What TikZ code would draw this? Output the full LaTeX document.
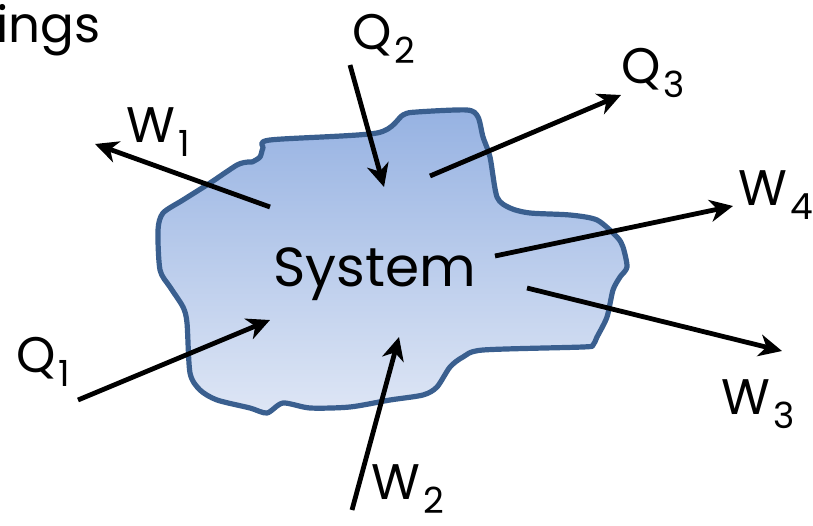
\documentclass[tikz,border=0pt]{standalone}
\usepackage{fontspec}
\setmainfont{Poppins}
\usetikzlibrary{arrows.meta}
\definecolor{blobtop}{RGB}{150,178,226}
\definecolor{blobbot}{RGB}{222,230,245}
\definecolor{blobline}{RGB}{58,95,143}
\newcommand{\qlbl}[2]{#1\hspace{3pt}\raisebox{-14pt}{\fontsize{36}{36}\selectfont #2}}
\tikzset{
  flow/.style={line width=4.8pt, -{Stealth[length=23pt,width=22pt,inset=7pt]}},
  lbl/.style={font=\fontsize{50}{56}\selectfont, inner sep=0pt, anchor=base west},
}
\begin{document}
\begin{tikzpicture}[x=1pt,y=-1pt]
\useasboundingbox (0,0) rectangle (813,526);
\path[draw=blobline, line width=5.2pt, line join=round, top color=blobtop, bottom color=blobbot]
  plot[smooth cycle, tension=0.45] coordinates {
  (270,140) (377,133) (403,115) (417,112) (467,110) (478,117)
  (483,137) (490,157) (497,197) (510,208) (530,213) (570,215)
  (597,220) (617,237) (623,247) (627,267) (620,277) (613,290)
  (607,317) (597,337) (593,345) (583,347) (483,350) (463,357)
  (450,367) (437,387) (423,395) (390,400) (350,407) (310,408)
  (283,403) (267,413) (250,408) (217,400) (200,390) (190,373)
  (187,323) (183,307) (170,287) (160,270) (158,230) (163,213)
  (183,200) (210,183) (237,165) (248,162) (252,162) (260,157)
  (263,148)};
\node[font=\fontsize{55}{60}\selectfont, inner sep=0pt, anchor=base west] (sys) at (273,287) {System};
\node[font=\fontsize{50}{56}\selectfont, inner sep=0pt, anchor=base east] (ings) at (101,43) {ings};
% arrow end points
\coordinate (w1s) at (270,207); \coordinate (w1e) at (95,144);
\coordinate (q2s) at (350,65);  \coordinate (q2e) at (384,187);
\coordinate (q3s) at (430,176); \coordinate (q3e) at (621,95);
\coordinate (w4s) at (495,256); \coordinate (w4e) at (733,206);
\coordinate (w3s) at (527,288); \coordinate (w3e) at (782,351);
\coordinate (q1s) at (78,400);  \coordinate (q1e) at (270,320);
\coordinate (w2s) at (352,510); \coordinate (w2e) at (399,337);
\draw[flow] (w1s) -- (w1e);
\draw[flow] (q2s) -- (q2e);
\draw[flow] (q3s) -- (q3e);
\draw[flow] (w4s) -- (w4e);
\draw[flow] (w3s) -- (w3e);
\draw[flow] (q1s) -- (q1e);
\draw[flow] (w2s) -- (w2e);
% labels
\node[lbl] (lw1) at (126,143) {\qlbl{W}{1}};
\node[lbl] (lq2) at (352,50) {\qlbl{Q}{2}};
\node[lbl] (lq3) at (621,84) {\qlbl{Q}{3}};
\node[lbl] (lw4) at (738,206) {\qlbl{W}{4}};
\node[lbl] (lw3) at (721,414) {\qlbl{W}{3}};
\node[lbl] (lq1) at (16,372) {\qlbl{Q}{1}};
\node[lbl] (lw2) at (371,499) {\qlbl{W}{2}};
\end{tikzpicture}
\end{document}
